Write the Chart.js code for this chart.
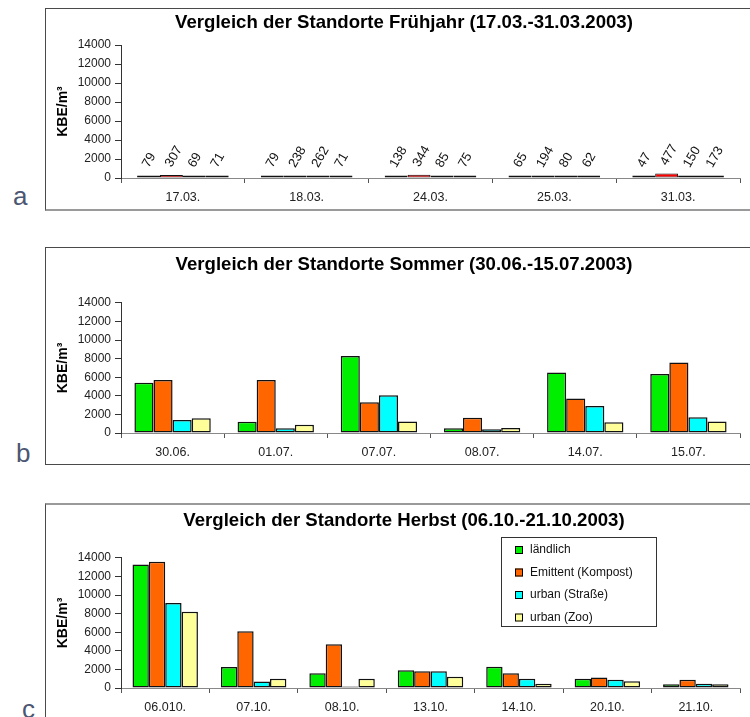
<!DOCTYPE html>
<html>
<head>
<meta charset="utf-8">
<script src="https://cdn.jsdelivr.net/npm/chart.js@4"></script>
<style>
  body{margin:0;width:750px;height:717px;overflow:hidden;position:relative;background:#fff;font-family:"Liberation Sans",Arial,sans-serif}
  .panel{position:absolute;left:45px;width:718px;box-sizing:border-box;border:1px solid #4a4a4a;background:#fff}
  .panel canvas{display:block}
  .tag{position:absolute;font-size:26px;line-height:26px;color:#4b5672}
</style>
</head>
<body>
<div class="panel" style="top:8px;height:203px;border-bottom:2px solid #9a9a9a"><canvas id="chartA" width="716" height="200"></canvas></div>
<div class="panel" style="top:247px;height:218px"><canvas id="chartB" width="716" height="216"></canvas></div>
<div class="panel" style="top:503px;height:230px;border-top:2px solid #9a9a9a"><canvas id="chartC" width="716" height="227"></canvas></div>
<div class="tag" style="left:13px;top:183px">a</div>
<div class="tag" style="left:16px;top:440px">b</div>
<div class="tag" style="left:22px;top:696px">c</div>
<script>
// series names
const seriesNames = ['ländlich','Emittent (Kompost)','urban (Straße)','urban (Zoo)'];
const seriesColors = ['#00ee00','#ff6600','#00ffff','#ffff99'];
const springColors = ['#00ee00','#ff0000','#00d8d8','#ffff99'];
const yTicks = [0,2000,4000,6000,8000,10000,12000,14000];

// Frühjahr
const springDates = ['17.03.','18.03.','24.03.','25.03.','31.03.'];
const springRural = [79,79,138,65,47];
const springCompost = [307,238,344,194,477];
const springStreet = [69,262,85,80,150];
const springZoo = [71,71,75,62,173];

// Sommer
const summerDates = ['30.06.','01.07.','07.07.','08.07.','14.07.','15.07.'];
const summerRural = [5400,1200,8300,500,6500,6350];
const summerCompost = [5700,5700,3300,1650,3700,7600];
const summerStreet = [1400,500,4050,400,2900,1700];
const summerZoo = [1600,900,1250,550,1150,1250];

// Herbst
const autumnDates = ['06.010.','07.10.','08.10.','13.10.','14.10.','20.10.','21.10.'];
const autumnRural = [13300,2250,1600,1900,2300,1000,400];
const autumnCompost = [13600,6100,4700,1800,1600,1120,900];
const autumnStreet = [9150,700,150,1800,1000,900,470];
const autumnZoo = [8200,1000,1000,1200,450,720,400];

Chart.defaults.font.family = '"Liberation Sans", Arial, sans-serif';
Chart.defaults.color = '#222';

const tiltLabels = {
  id:'tiltLabels',
  afterDatasetsDraw(chart){
    const ctx = chart.ctx;
    chart.data.datasets.forEach((ds,i)=>{
      chart.getDatasetMeta(i).data.forEach((bar,j)=>{
        ctx.save();
        ctx.translate(bar.x-3, bar.y-9);
        ctx.rotate(-Math.PI/3);
        ctx.font = '13px "Liberation Sans", Arial, sans-serif';
        ctx.fillStyle = '#111';
        ctx.textAlign = 'left';
        ctx.textBaseline = 'middle';
        ctx.fillText(String(ds.data[j]),0,0);
        ctx.restore();
      });
    });
  }
};

const boxLegend = {
  id:'boxLegend',
  afterDraw(chart, args, o){
    if(!o || !o.show) return;
    const ctx = chart.ctx;
    ctx.save();
    ctx.fillStyle = '#fff';
    ctx.fillRect(o.left, o.top, o.width, o.height);
    ctx.strokeStyle = '#333'; ctx.lineWidth = 1;
    ctx.strokeRect(o.left+0.5, o.top+0.5, o.width, o.height);
    ctx.font = '12px "Liberation Sans", Arial, sans-serif';
    ctx.textBaseline = 'middle';
    chart.data.datasets.forEach((ds,i)=>{
      const y = o.top + o.first + i*o.step;
      ctx.fillStyle = ds.backgroundColor;
      ctx.fillRect(o.left+14, y-4, 8, 8);
      ctx.strokeStyle = '#000';
      ctx.strokeRect(o.left+14.5, y-3.5, 7, 7);
      ctx.fillStyle = '#111';
      ctx.fillText(ds.label, o.left+29, y);
    });
    ctx.restore();
  }
};

function makeChart(id, title, labels, series, colors, cfg){
  const datasets = series.map((d,i)=>({
    label: seriesNames[i], data: d, backgroundColor: colors[i],
    borderColor:'#111', borderWidth: cfg.border, borderSkipped:false,
    minBarLength: cfg.minBar || 0,
    categoryPercentage: 0.74, barPercentage: 1.0
  }));
  return new Chart(document.getElementById(id), {
    type:'bar',
    data:{labels, datasets},
    plugins: cfg.plugins || [],
    options:{
      responsive:false, animation:false, devicePixelRatio:1,
      layout:{padding:{left:0, right:0, top:0, bottom:cfg.padBottom}},
      plugins:{
        legend:{display:false},
        tooltip:{enabled:false},
        title:{display:true, text:title, color:'#000', font:{size:18.6, weight:'bold'}, padding:{top:cfg.titleTop, bottom:cfg.titleBottom}},
        boxLegend: cfg.legend || {show:false}
      },
      scales:{
        x:{
          grid:{display:true, drawOnChartArea:false, drawTicks:true, tickLength:5, color:'#555', offset:true},
          border:{color:'#888'},
          ticks:{padding:7, color:'#222', font:{size:12.5}}
        },
        y:{
          min:0, max:14000,
          afterBuildTicks(s){ s.ticks = yTicks.map(v=>({value:v})); },
          afterFit(s){ s.width = 75; },
          grid:{display:true, drawOnChartArea:false, drawTicks:true, tickLength:6, color:'#333'},
          border:{color:'#333'},
          ticks:{padding:4, color:'#222', font:{size:12}, callback:v=>String(v)},
          title:{display:true, text:'KBE/m³', color:'#000', font:{size:14, weight:'bold'}, padding:{top:9, bottom:0}}
        },
        pad:{
          type:'linear', axis:'y', position:'right', display:true,
          grid:{display:false}, ticks:{display:false}, border:{display:false},
          afterFit(s){ s.width = 22; }
        }
      }
    }
  });
}

makeChart('chartA','Vergleich der Standorte Frühjahr (17.03.-31.03.2003)', springDates,
  [springRural, springCompost, springStreet, springZoo], springColors,
  {border:1, minBar:2.5, padBottom:-3, titleTop:3, titleBottom:10.7, plugins:[tiltLabels]});

makeChart('chartB','Vergleich der Standorte Sommer (30.06.-15.07.2003)', summerDates,
  [summerRural, summerCompost, summerStreet, summerZoo], seriesColors,
  {border:1.5, padBottom:-3, titleTop:5.8, titleBottom:26.8});

makeChart('chartC','Vergleich der Standorte Herbst (06.10.-21.10.2003)', autumnDates,
  [autumnRural, autumnCompost, autumnStreet, autumnZoo], seriesColors,
  {border:1.5, padBottom:10, titleTop:4.8, titleBottom:25.8, plugins:[boxLegend],
   legend:{show:true, left:455, top:32, width:155, height:89, first:13, step:22.5}});
</script>
</body>
</html>
